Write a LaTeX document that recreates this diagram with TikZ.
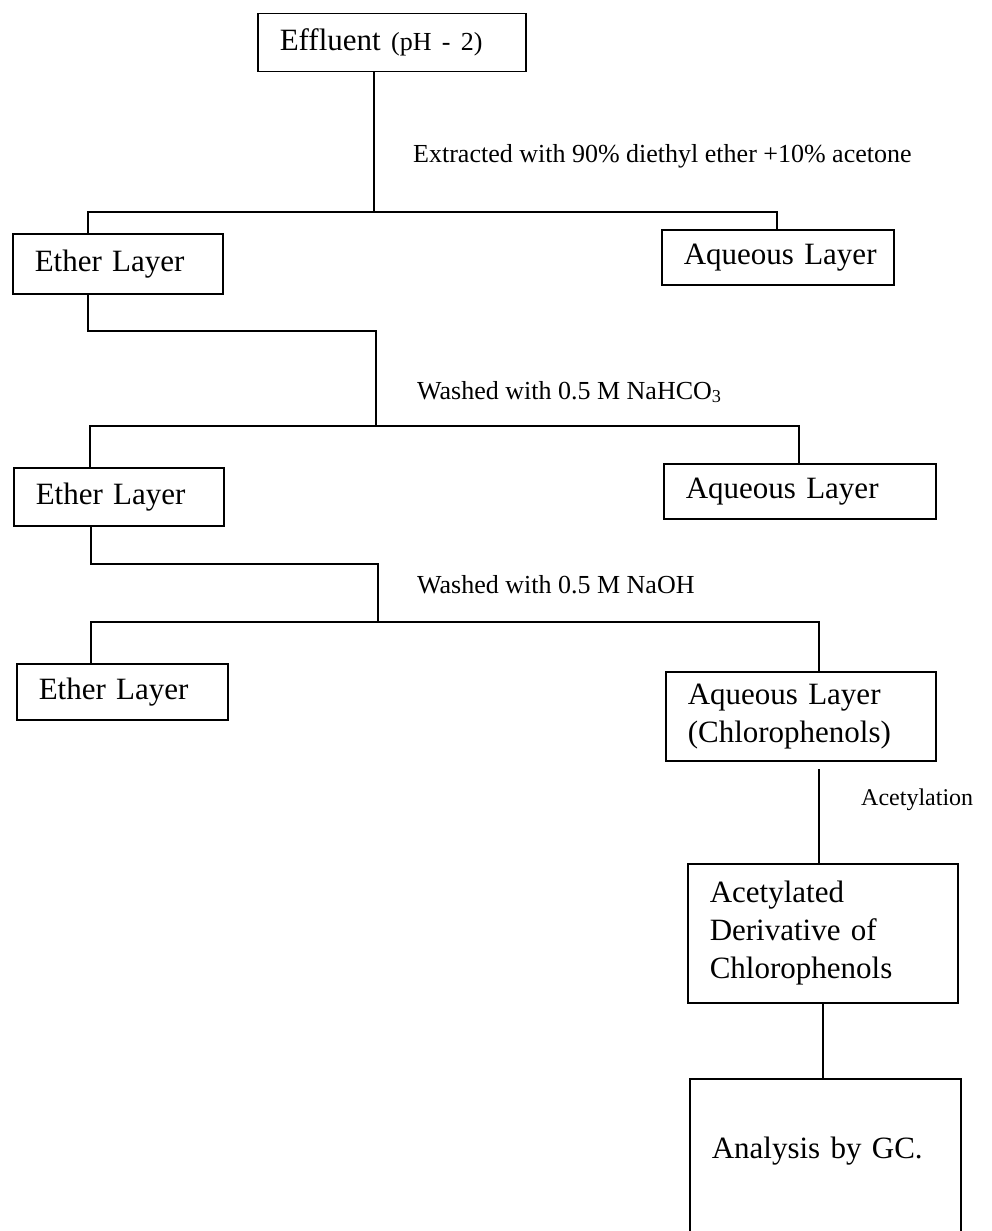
\documentclass[tikz,border=0pt]{standalone}
\usepackage{fontspec}
\setmainfont{Liberation Serif}
\newcommand{\boxfont}{\fontsize{31}{38}\selectfont}
\newcommand{\notefont}{\fontsize{26}{31}\selectfont}
\newcommand{\stepfont}{\fontsize{24}{29}\selectfont}

\begin{document}
\begin{tikzpicture}[
  x=1pt,y=-1pt,
  box/.style={draw,line width=1.5pt,anchor=north west,inner ysep=0pt,inner xsep=22pt,align=left,font=\boxfont},
  note/.style={anchor=west,inner sep=0pt,font=\notefont},
  link/.style={line width=1.5pt}
]
\useasboundingbox (0,0) rectangle (991,1231);

% boxes
\node[box,text width=224pt,minimum height=58pt] (effluent) at (257,13) {Effluent {\notefont (pH - 2)}};
\node[box,text width=166pt,minimum height=60pt] (ether1) at (12,233) {Ether Layer};
\node[box,text width=188pt,minimum height=55pt] (aqueous1) at (661,229) {Aqueous~Layer};
\node[box,text width=166pt,minimum height=58pt] (ether2) at (13,467) {Ether Layer};
\node[box,text width=228pt,minimum height=55pt] (aqueous2) at (663,463) {Aqueous Layer};
\node[box,text width=167pt,minimum height=56pt] (ether3) at (16,663) {Ether Layer};
\node[box,text width=226pt,minimum height=89pt] (aqueous3) at (665,671) {Aqueous Layer\\(Chlorophenols)};
\node[box,text width=226pt,minimum height=139pt] (acetylated) at (687,863) {Acetylated\\Derivative of\\Chlorophenols};
\node[box,text width=227pt,text height=80pt,text depth=82pt] (analysis) at (689,1078) {Analysis by GC.};

% step labels
\node[note] (extracted) at (413,156) {Extracted with 90\% diethyl ether +10\% acetone};
\node[note] (bicarb) at (417,392) {Washed with 0.5 M NaHCO\textsubscript{3}};
\node[note] (hydroxide) at (417,585) {Washed with 0.5 M NaOH};
\node[note,font=\stepfont] (acetylation) at (861,800) {Acetylation};

% first split
\coordinate (split1) at (374,212);
\coordinate (split1w) at (88,212);
\coordinate (split1e) at (777,212);
\draw[link] (effluent.south -| split1) -- (split1);
\draw[link] (split1w |- ether1.north) -- (split1w) -- (split1e) -- (split1e |- aqueous1.north);

% second split
\coordinate (turn1) at (88,331);
\coordinate (split2) at (376,426);
\coordinate (split2w) at (90,426);
\coordinate (split2e) at (799,426);
\draw[link] (turn1 |- ether1.south) -- (turn1) -| (split2);
\draw[link] (split2w |- ether2.north) -- (split2w) -- (split2e) -- (split2e |- aqueous2.north);

% third split
\coordinate (turn2) at (91,564);
\coordinate (split3) at (378,622);
\coordinate (split3w) at (91,622);
\coordinate (split3e) at (819,622);
\draw[link] (turn2 |- ether2.south) -- (turn2) -| (split3);
\draw[link] (split3w |- ether3.north) -- (split3w) -- (split3e) -- (split3e |- aqueous3.north);

% chlorophenol branch
\draw[link,shorten >=7pt] (split3e |- acetylated.north) -- (split3e |- aqueous3.south);
\draw[link] (acetylated.south) -- (acetylated.south |- analysis.north);
\end{tikzpicture}
\end{document}
